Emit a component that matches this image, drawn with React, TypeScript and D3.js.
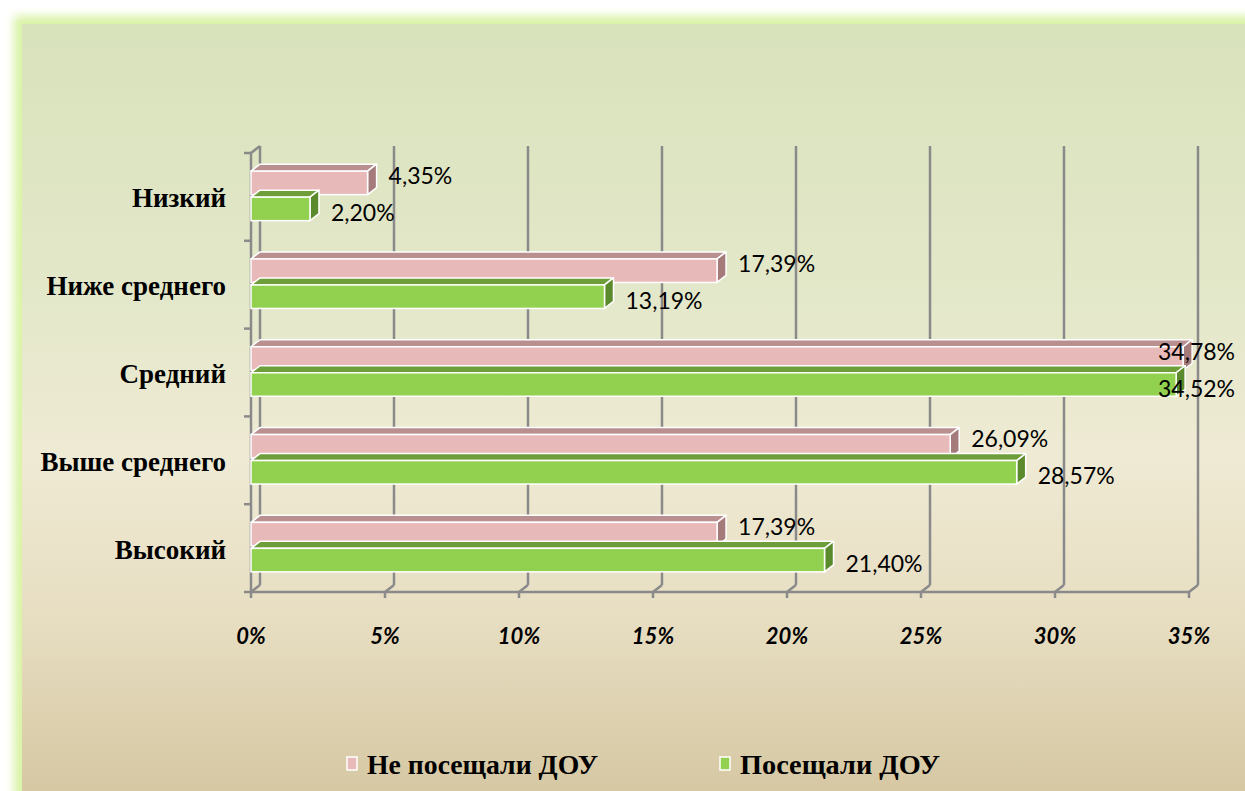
import React, { useRef, useEffect } from "react";
import * as d3 from "d3";

const categories = ["Низкий", "Ниже среднего", "Средний", "Выше среднего", "Высокий"];
const seriesNames = ["Не посещали ДОУ", "Посещали ДОУ"];
const notAttended = [4.35, 17.39, 34.78, 26.09, 17.39];
const attended = [2.2, 13.19, 34.52, 28.57, 21.4];
const xTicks = [0, 5, 10, 15, 20, 25, 30, 35];

const App = () => {
  const svgRef = useRef<SVGSVGElement | null>(null);

  useEffect(() => {
    const svg = d3.select(svgRef.current);
    svg.selectAll("*").remove();

    const width = 1245;
    const height = 791;
    svg.attr("width", width).attr("height", height);

    const defs = svg.append("defs");
    const bg = defs
      .append("linearGradient")
      .attr("id", "bg")
      .attr("x1", 0)
      .attr("y1", 0)
      .attr("x2", 0)
      .attr("y2", 1);
    [
      [0, "#d8e2bb"],
      [0.35, "#e4e8ca"],
      [0.55, "#efead4"],
      [0.75, "#e7dec2"],
      [1, "#d4c59f"],
    ].forEach(([o, c]) => bg.append("stop").attr("offset", o as number).attr("stop-color", c as string));

    const glow = defs.append("filter").attr("id", "glow").attr("x", "-5%").attr("y", "-5%").attr("width", "110%").attr("height", "110%");
    glow.append("feGaussianBlur").attr("stdDeviation", 5);

    // фон с зелёным свечением
    svg
      .append("rect")
      .attr("x", 14)
      .attr("y", 16)
      .attr("width", 1250)
      .attr("height", 800)
      .attr("fill", "#d9f3a4")
      .attr("filter", "url(#glow)");
    svg
      .append("rect")
      .attr("x", 22)
      .attr("y", 24)
      .attr("width", 1240)
      .attr("height", 790)
      .attr("fill", "url(#bg)");

    const dx = 9;
    const dy = -7;
    const x0 = 251;
    const top = 153;
    const bottom = 592;

    const xScale = d3.scaleLinear().domain([0, 35]).range([x0, 1189]);
    const yScale = d3.scaleBand().domain(categories).range([top, bottom]);

    const axisColor = "#8a8a8a";
    const g = svg.append("g");

    // задняя стенка: сетка
    xTicks.forEach((t) => {
      g.append("line")
        .attr("x1", xScale(t) + dx)
        .attr("x2", xScale(t) + dx)
        .attr("y1", top + dy)
        .attr("y2", bottom + dy)
        .attr("stroke", axisColor)
        .attr("stroke-width", 2.5);
      // пол
      g.append("line")
        .attr("x1", xScale(t))
        .attr("x2", xScale(t) + dx)
        .attr("y1", bottom)
        .attr("y2", bottom + dy)
        .attr("stroke", axisColor)
        .attr("stroke-width", 2.5);
      g.append("line")
        .attr("x1", xScale(t))
        .attr("x2", xScale(t))
        .attr("y1", bottom)
        .attr("y2", bottom + 6)
        .attr("stroke", axisColor)
        .attr("stroke-width", 2.5);
    });

    // левая стенка
    g.append("line")
      .attr("x1", x0)
      .attr("x2", x0)
      .attr("y1", top)
      .attr("y2", bottom)
      .attr("stroke", axisColor)
      .attr("stroke-width", 2.5);
    g.append("line")
      .attr("x1", x0)
      .attr("x2", x0 + dx)
      .attr("y1", top)
      .attr("y2", top + dy)
      .attr("stroke", axisColor)
      .attr("stroke-width", 2.5);
    const yEdges = categories.map((c) => yScale(c) as number).concat([bottom]);
    yEdges.forEach((y) => {
      g.append("line")
        .attr("x1", x0 - 7)
        .attr("x2", x0)
        .attr("y1", y)
        .attr("y2", y)
        .attr("stroke", axisColor)
        .attr("stroke-width", 2.5);
    });
    g.append("line")
      .attr("x1", x0)
      .attr("x2", xScale(35))
      .attr("y1", bottom)
      .attr("y2", bottom)
      .attr("stroke", axisColor)
      .attr("stroke-width", 2.5);

    // подписи оси X
    g.selectAll(".xt")
      .data(xTicks)
      .enter()
      .append("text")
      .attr("x", (d) => xScale(d))
      .attr("y", 644)
      .attr("text-anchor", "middle")
      .attr("font-family", "Lato, 'Open Sans', sans-serif")
      .attr("font-weight", "bold")
      .attr("font-style", "italic")
      .attr("font-size", 22)
      .text((d) => d + "%");

    // подписи категорий
    g.selectAll(".yt")
      .data(categories)
      .enter()
      .append("text")
      .attr("x", 226)
      .attr("y", (d) => (yScale(d) as number) + yScale.bandwidth() / 2 + 1)
      .attr("dy", "0.35em")
      .attr("text-anchor", "end")
      .attr("font-family", "'Liberation Serif', 'Times New Roman', serif")
      .attr("font-weight", "bold")
      .attr("font-size", 27)
      .text((d) => d);

    const barH = 23.5;
    const gap = 2.5;
    const series = [
      { values: notAttended, front: "#e8b9b9", topC: "#b98f8f", side: "#a47a7a", off: 0, ldy: -7 },
      { values: attended, front: "#92d050", topC: "#6e9e3a", side: "#5b8a2c", off: barH + gap, ldy: 4 },
    ];

    // столбцы
    const bars = g.append("g");
    categories.forEach((cat, i) => {
      const bandTop = (yScale(cat) as number) + (yScale.bandwidth() - (2 * barH + gap)) / 2 - 1;
      series.forEach((s) => {
        const y = bandTop + s.off;
        const x1 = xScale(s.values[i]);
        // верхняя грань
        bars
          .append("path")
          .attr("d", `M${x0},${y} L${x0 + dx},${y + dy} L${x1 + dx},${y + dy} L${x1},${y} Z`)
          .attr("fill", s.topC)
          .attr("stroke", "#ffffff")
          .attr("stroke-width", 1.5)
          .attr("stroke-linejoin", "round");
        // боковая грань
        bars
          .append("path")
          .attr("d", `M${x1},${y} L${x1 + dx},${y + dy} L${x1 + dx},${y + dy + barH} L${x1},${y + barH} Z`)
          .attr("fill", s.side)
          .attr("stroke", "#ffffff")
          .attr("stroke-width", 1.5)
          .attr("stroke-linejoin", "round");
        // передняя грань
        bars
          .append("rect")
          .attr("x", x0)
          .attr("y", y)
          .attr("width", x1 - x0)
          .attr("height", barH)
          .attr("fill", s.front)
          .attr("stroke", "#ffffff")
          .attr("stroke-width", 1.5);
      });
    });

    // подписи значений
    categories.forEach((cat, i) => {
      const bandTop = (yScale(cat) as number) + (yScale.bandwidth() - (2 * barH + gap)) / 2 - 1;
      series.forEach((s) => {
        const y = bandTop + s.off + barH / 2 + s.ldy;
        const lx = Math.min(xScale(s.values[i]) + dx + 12, 1158);
        g.append("text")
          .attr("x", lx)
          .attr("y", y)
          .attr("dy", "0.35em")
          .attr("font-family", "Lato, 'Open Sans', sans-serif")
          .attr("font-size", 23)
          .attr("fill", "#000")
          .text(s.values[i].toFixed(2).replace(".", ",") + "%");
      });
    });

    // легенда
    const legendX = [347, 720];
    const legendW = [231, 200];
    seriesNames.forEach((name, i) => {
      svg
        .append("rect")
        .attr("x", legendX[i])
        .attr("y", 757)
        .attr("width", 10)
        .attr("height", 13)
        .attr("fill", series[i].front)
        .attr("stroke", "#ffffff")
        .attr("stroke-width", 1.5);
      svg
        .append("text")
        .attr("x", legendX[i] + 20)
        .attr("y", 774)
        .attr("font-family", "'Liberation Serif', 'Times New Roman', serif")
        .attr("font-weight", "bold")
        .attr("font-size", 27)
        .attr("textLength", legendW[i])
        .attr("lengthAdjust", "spacingAndGlyphs")
        .text(name);
    });
  }, []);

  return <svg ref={svgRef} style={{ position: "absolute", left: 0, top: 0 }} />;
};

export default App;
